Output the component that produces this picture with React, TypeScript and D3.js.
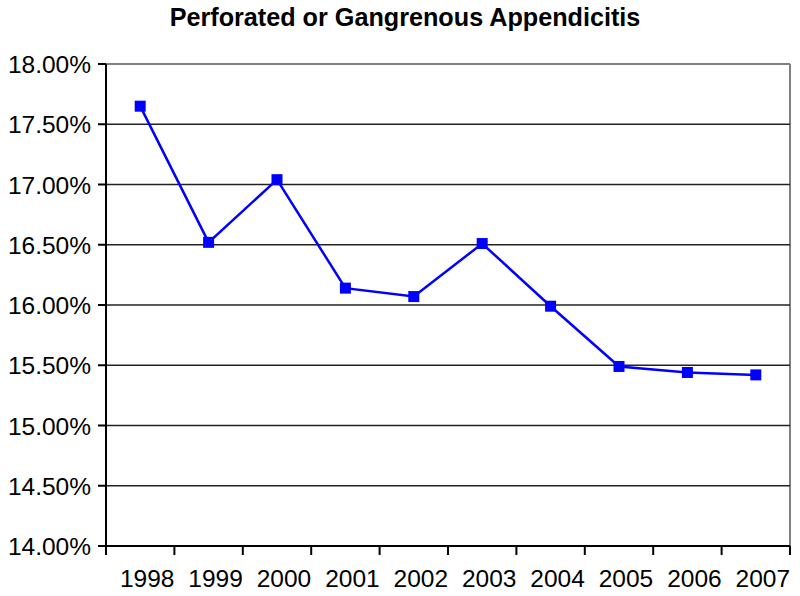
import React from "react";
import * as d3 from "d3";

const years = ["1998", "1999", "2000", "2001", "2002", "2003", "2004", "2005", "2006", "2007"];
const rates = [17.65, 16.52, 17.04, 16.14, 16.07, 16.51, 15.99, 15.49, 15.44, 15.42];
const yTicks = [14.0, 14.5, 15.0, 15.5, 16.0, 16.5, 17.0, 17.5, 18.0];
const title = "Perforated or Gangrenous Appendicitis";

export default function App() {
  const W = 800, H = 596;
  const left = 106, right = 790, top = 64, bottom = 546;
  const x = d3.scaleBand<string>().domain(years).range([left, right]).padding(0);
  const y = d3.scaleLinear().domain([14, 18]).range([bottom, top]);
  const cx = (d: string) => (x(d) ?? 0) + x.bandwidth() / 2;
  const line = d3.line<number>().x((_, i) => cx(years[i])).y((v) => y(v));
  const font = "Arial, 'Liberation Sans', sans-serif";
  const boundaries = d3.range(years.length + 1).map((i) => left + i * x.bandwidth());

  return (
    <svg width={W} height={H} style={{ position: "absolute", left: 0, top: 0, background: "#fff" }}>
      <rect x={0} y={0} width={W} height={H} fill="#fff" />
      <text x={405} y={26} textAnchor="middle" fontFamily={font} fontWeight="bold" fontSize={25.2} fill="#000">
        {title}
      </text>
      {/* plot border */}
      <line x1={left} x2={right} y1={top} y2={top} stroke="#808080" strokeWidth={2} />
      <line x1={right} x2={right} y1={top} y2={bottom} stroke="#808080" strokeWidth={2} />
      {/* gridlines */}
      {yTicks.filter((t) => t > 14 && t < 18).map((t) => (
        <line key={t} x1={left} x2={right} y1={y(t)} y2={y(t)} stroke="#222" strokeWidth={1.6} />
      ))}
      {/* y axis */}
      <line x1={left} x2={left} y1={top} y2={bottom + 9} stroke="#000" strokeWidth={2} />
      {yTicks.map((t) => (
        <g key={"yt" + t}>
          <line x1={left - 8} x2={left} y1={y(t)} y2={y(t)} stroke="#000" strokeWidth={2} />
          <text x={91} y={y(t) + 9} textAnchor="end" fontFamily={font} fontSize={24.5} fill="#000">
            {t.toFixed(2) + "%"}
          </text>
        </g>
      ))}
      {/* x axis */}
      <line x1={left} x2={right} y1={bottom} y2={bottom} stroke="#000" strokeWidth={2} />
      {boundaries.map((b, i) => (
        <line key={"xt" + i} x1={b} x2={b} y1={bottom} y2={bottom + 9} stroke="#000" strokeWidth={2} />
      ))}
      {years.map((yr) => (
        <text key={yr} x={cx(yr) + 7} y={587} textAnchor="middle" fontFamily={font} fontSize={24.5} fill="#000">
          {yr}
        </text>
      ))}
      {/* series */}
      <path d={line(rates) ?? ""} fill="none" stroke="#0000ff" strokeWidth={2.5} />
      {rates.map((v, i) => (
        <rect key={i} x={cx(years[i]) - 5.5} y={y(v) - 5.5} width={11} height={11} fill="#0000ff" />
      ))}
    </svg>
  );
}
